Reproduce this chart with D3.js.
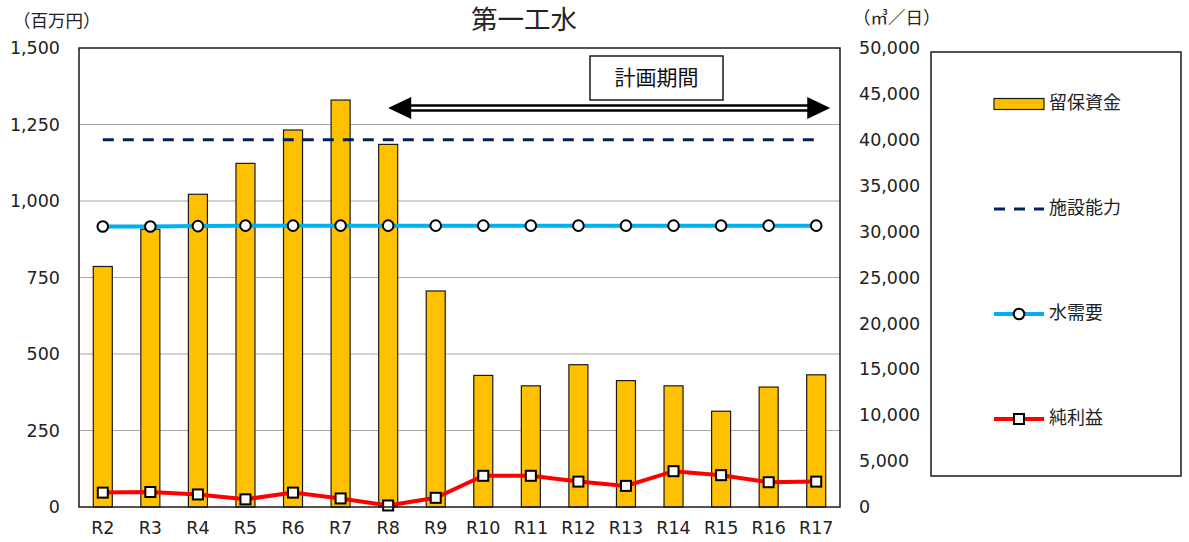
<!DOCTYPE html>
<html>
<head>
<meta charset="utf-8">
<script src="https://cdn.jsdelivr.net/npm/d3@7/dist/d3.min.js"></script>
<style>
  html, body { margin: 0; padding: 0; background: #fff; }
  svg { display: block; font-family: "DejaVu Sans", "Noto Sans CJK JP", sans-serif; }
</style>
</head>
<body>
<svg id="chart" width="1189" height="542"></svg>
<script>
// 第一工水 — 留保資金・純利益（百万円）と 水需要・施設能力（㎥／日）
const categories = ["R2","R3","R4","R5","R6","R7","R8","R9","R10","R11","R12","R13","R14","R15","R16","R17"];
const reserveFunds = [786, 908, 1022, 1123, 1232, 1330, 1185, 706, 430, 396, 465, 413, 396, 313, 392, 432];
const netProfit = [47, 49, 41, 25, 47, 28, 5, 30, 102, 102, 83, 69, 117, 104, 81, 83];
const waterDemand = [30550, 30550, 30600, 30650, 30650, 30650, 30650, 30650, 30650, 30650, 30650, 30650, 30650, 30650, 30650, 30650];
const facilityCapacity = [40000, 40000, 40000, 40000, 40000, 40000, 40000, 40000, 40000, 40000, 40000, 40000, 40000, 40000, 40000, 40000];
const leftTicks = [0, 250, 500, 750, 1000, 1250, 1500];
const rightTicks = [0, 5000, 10000, 15000, 20000, 25000, 30000, 35000, 40000, 45000, 50000];
const legendLabels = ["留保資金", "施設能力", "水需要", "純利益"];
const planStart = "R8";

const svg = d3.select("#chart");
const plot = { left: 79, right: 840, top: 48, bottom: 507 };

const x = d3.scaleBand().domain(categories).range([plot.left, plot.right]).paddingInner(0).paddingOuter(0);
const yL = d3.scaleLinear().domain([0, 1500]).range([plot.bottom, plot.top]);
const yR = d3.scaleLinear().domain([0, 50000]).range([plot.bottom, plot.top]);
const cx = c => x(c) + x.bandwidth() / 2;
const fmt = d3.format(",");
const tickFont = 17.5;

// title and unit labels
svg.append("text").attr("x", 524).attr("y", 21).attr("text-anchor", "middle")
  .attr("dominant-baseline", "middle").attr("font-size", 26.5).attr("fill", "#222").text("第一工水");
svg.append("text").attr("x", 13).attr("y", 22).attr("dominant-baseline", "middle")
  .attr("font-size", 17.5).attr("fill", "#222").text("（百万円）");
svg.append("text").attr("x", 853).attr("y", 19).attr("dominant-baseline", "middle")
  .attr("font-size", 17.5).attr("fill", "#222").text("（㎥／日）");

// gridlines
svg.append("g").selectAll("line").data(leftTicks.filter(t => t > 0 && t < 1500)).join("line")
  .attr("x1", plot.left).attr("x2", plot.right)
  .attr("y1", d => yL(d)).attr("y2", d => yL(d))
  .attr("stroke", "#a6a6a6").attr("stroke-width", 1);

// left axis
const axL = svg.append("g").attr("transform", `translate(${plot.left},0)`)
  .call(d3.axisLeft(yL).tickValues(leftTicks).tickFormat(fmt).tickSize(0).tickPadding(19));
axL.select(".domain").remove();
axL.selectAll("text").attr("font-size", tickFont).attr("fill", "#222")
  .attr("font-family", "DejaVu Sans, sans-serif");

// right axis
const axR = svg.append("g").attr("transform", `translate(${plot.right},0)`)
  .call(d3.axisRight(yR).tickValues(rightTicks).tickFormat(fmt).tickSize(0).tickPadding(19));
axR.select(".domain").remove();
axR.selectAll("text").attr("font-size", tickFont).attr("fill", "#222")
  .attr("font-family", "DejaVu Sans, sans-serif");

// bottom axis labels
const axB = svg.append("g").attr("transform", `translate(0,${plot.bottom})`)
  .call(d3.axisBottom(x).tickSize(0).tickPadding(15));
axB.select(".domain").remove();
axB.selectAll("text").attr("font-size", tickFont).attr("fill", "#222")
  .attr("font-family", "DejaVu Sans, sans-serif");

// bars: 留保資金
const barW = x.bandwidth() * 0.4;
svg.append("g").selectAll("rect").data(categories).join("rect")
  .attr("x", (c) => cx(c) - barW / 2)
  .attr("width", barW)
  .attr("y", (c, i) => yL(reserveFunds[i]))
  .attr("height", (c, i) => plot.bottom - yL(reserveFunds[i]))
  .attr("fill", "#FFC000").attr("stroke", "#1a1a1a").attr("stroke-width", 1.2);

// 施設能力 (dashed)
const capLine = d3.line().x((d, i) => cx(categories[i])).y(d => yR(d));
svg.append("path").datum(facilityCapacity).attr("d", capLine)
  .attr("fill", "none").attr("stroke", "#002060").attr("stroke-width", 3)
  .attr("stroke-dasharray", "11,9");

// 水需要
const demLine = d3.line().x((d, i) => cx(categories[i])).y(d => yR(d));
svg.append("path").datum(waterDemand).attr("d", demLine)
  .attr("fill", "none").attr("stroke", "#00B0F0").attr("stroke-width", 4);
svg.append("g").selectAll("circle").data(waterDemand).join("circle")
  .attr("cx", (d, i) => cx(categories[i])).attr("cy", d => yR(d)).attr("r", 5.3)
  .attr("fill", "#fff").attr("stroke", "#000").attr("stroke-width", 2);

// 純利益
const profLine = d3.line().x((d, i) => cx(categories[i])).y(d => yL(d));
svg.append("path").datum(netProfit).attr("d", profLine)
  .attr("fill", "none").attr("stroke", "#FF0000").attr("stroke-width", 4);
svg.append("g").selectAll("rect").data(netProfit).join("rect")
  .attr("x", (d, i) => cx(categories[i]) - 5).attr("y", d => yL(d) - 5)
  .attr("width", 10).attr("height", 10)
  .attr("fill", "#fff").attr("stroke", "#000").attr("stroke-width", 2);

// plot frame
svg.append("rect").attr("x", plot.left).attr("y", plot.top)
  .attr("width", plot.right - plot.left).attr("height", plot.bottom - plot.top)
  .attr("fill", "none").attr("stroke", "#1a1a1a").attr("stroke-width", 1.5);

// 計画期間 double-headed arrow
const ax0 = cx(planStart), ax1 = cx(categories[categories.length - 1]) + 14, ay = 108;
const head = 23, half = 11;
const arrow = svg.append("g");
arrow.append("line").attr("x1", ax0 + head - 2).attr("x2", ax1 - head + 2).attr("y1", ay).attr("y2", ay)
  .attr("stroke", "#000").attr("stroke-width", 7.5);
arrow.append("line").attr("x1", ax0 + head - 2).attr("x2", ax1 - head + 2).attr("y1", ay).attr("y2", ay)
  .attr("stroke", "#fff").attr("stroke-width", 2.5);
arrow.append("path").attr("d", `M${ax0},${ay} L${ax0 + head},${ay - half} L${ax0 + head},${ay + half} Z`).attr("fill", "#000");
arrow.append("path").attr("d", `M${ax1},${ay} L${ax1 - head},${ay - half} L${ax1 - head},${ay + half} Z`).attr("fill", "#000");

svg.append("rect").attr("x", 590).attr("y", 56).attr("width", 133).attr("height", 44)
  .attr("fill", "#fff").attr("stroke", "#1a1a1a").attr("stroke-width", 1.5);
svg.append("text").attr("x", 656.5).attr("y", 79).attr("text-anchor", "middle")
  .attr("dominant-baseline", "middle").attr("font-size", 21).attr("fill", "#111").text("計画期間");

// legend
const lg = svg.append("g");
lg.append("rect").attr("x", 931).attr("y", 52).attr("width", 250).attr("height", 424)
  .attr("fill", "#fff").attr("stroke", "#1a1a1a").attr("stroke-width", 1.5);
const ly = [104, 209, 314, 419];
const sx0 = 994, sx1 = 1044, smid = 1019, tx = 1049;
lg.append("rect").attr("x", sx0).attr("y", ly[0] - 5.5).attr("width", sx1 - sx0).attr("height", 11)
  .attr("fill", "#FFC000").attr("stroke", "#1a1a1a").attr("stroke-width", 1.2);
lg.append("line").attr("x1", sx0).attr("x2", sx1).attr("y1", ly[1]).attr("y2", ly[1])
  .attr("stroke", "#002060").attr("stroke-width", 3).attr("stroke-dasharray", "11,9");
lg.append("line").attr("x1", sx0).attr("x2", sx1).attr("y1", ly[2]).attr("y2", ly[2])
  .attr("stroke", "#00B0F0").attr("stroke-width", 4);
lg.append("circle").attr("cx", smid).attr("cy", ly[2]).attr("r", 5.3)
  .attr("fill", "#fff").attr("stroke", "#000").attr("stroke-width", 2);
lg.append("line").attr("x1", sx0).attr("x2", sx1).attr("y1", ly[3]).attr("y2", ly[3])
  .attr("stroke", "#FF0000").attr("stroke-width", 4);
lg.append("rect").attr("x", smid - 5).attr("y", ly[3] - 5).attr("width", 10).attr("height", 10)
  .attr("fill", "#fff").attr("stroke", "#000").attr("stroke-width", 2);
lg.selectAll("text.lab").data(legendLabels).join("text").attr("class", "lab")
  .attr("x", tx).attr("y", (d, i) => ly[i]).attr("dominant-baseline", "middle")
  .attr("font-size", 18).attr("fill", "#222").text(d => d);
</script>
</body>
</html>
